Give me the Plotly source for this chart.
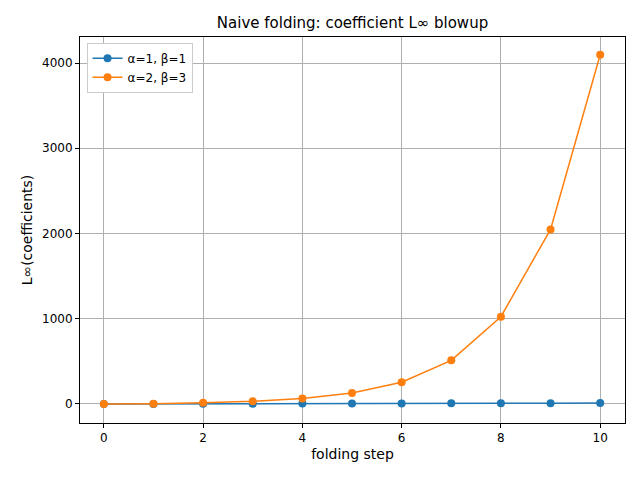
import plotly.graph_objects as go

steps = list(range(11))
series1 = [1, 1, 2, 3, 5, 6, 7, 8, 9, 10, 11]
series2 = [1, 4, 16, 32, 64, 128, 256, 512, 1024, 2048, 4096]
names = ["α=1, β=1", "α=2, β=3"]
colors = ["#1f77b4", "#ff7f0e"]

fig = go.Figure()
for ys, n, c in zip([series1, series2], names, colors):
    fig.add_trace(go.Scatter(x=steps, y=ys, name=n, mode="lines+markers",
                             line=dict(color=c, width=1.5), marker=dict(size=8, color=c)))

ax = dict(showline=True, mirror=True, linecolor="black", linewidth=1, showgrid=True,
          gridcolor="#b0b0b0", gridwidth=1, zeroline=False, ticks="outside",
          ticklen=4, tickcolor="black", tickfont=dict(size=12, color="black"))
fig.update_layout(
    width=640, height=480, plot_bgcolor="white", paper_bgcolor="white",
    font=dict(family="DejaVu Sans", size=12, color="black"),
    margin=dict(l=72, r=23, t=29, b=65),
    title=dict(text="Naive folding: coefficient L∞ blowup", x=(72 + 617) / 2 / 640, xanchor="center",
               y=1 - 15/480, yanchor="middle", font=dict(size=15)),
    xaxis=dict(title=dict(text="folding step", standoff=4), range=[-0.48, 10.5],
               tickvals=[0, 2, 4, 6, 8, 10], **ax),
    yaxis=dict(title=dict(text="L∞(coefficients)", standoff=6), range=[-223, 4305],
               tickvals=[0, 1000, 2000, 3000, 4000], **ax),
    legend=dict(x=0.012, y=0.985, xanchor="left", yanchor="top", bgcolor="white",
                bordercolor="#cccccc", borderwidth=1, font=dict(size=12)),
    showlegend=True,
)
fig.write_html("out.html")
